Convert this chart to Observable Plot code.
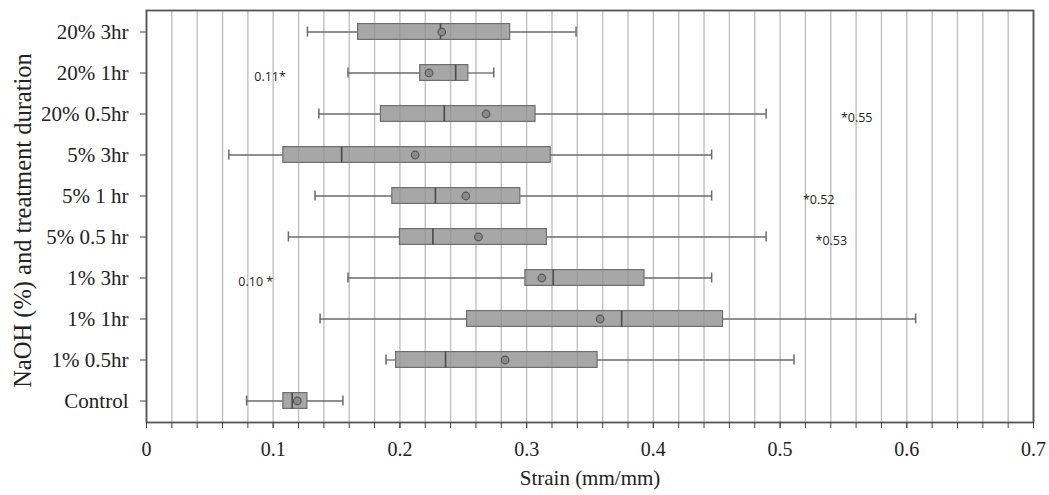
<!DOCTYPE html>
<html>
<head>
<meta charset="utf-8">
<script src="https://cdn.jsdelivr.net/npm/d3@7"></script>
<script src="https://cdn.jsdelivr.net/npm/@observablehq/plot@0.6"></script>
<style>
  html, body { margin: 0; padding: 0; background: #fff; }
  #chart svg { display: block; }
</style>
</head>
<body>
<div id="chart"></div>
<script>
// ---- data ----
const groups = ["20% 3hr", "20% 1hr", "20% 0.5hr", "5% 3hr", "5% 1 hr", "5% 0.5 hr", "1% 3hr", "1% 1hr", "1% 0.5hr", "Control"];
const whiskerLow  = [0.127, 0.159, 0.136, 0.065, 0.133, 0.112, 0.159, 0.137, 0.189, 0.079];
const q1          = [0.167, 0.216, 0.185, 0.108, 0.194, 0.200, 0.299, 0.253, 0.197, 0.108];
const median      = [0.232, 0.244, 0.235, 0.154, 0.228, 0.226, 0.321, 0.375, 0.236, 0.115];
const q3          = [0.287, 0.254, 0.307, 0.319, 0.295, 0.316, 0.393, 0.455, 0.356, 0.127];
const whiskerHigh = [0.339, 0.274, 0.489, 0.446, 0.446, 0.489, 0.446, 0.607, 0.511, 0.155];
const mean        = [0.233, 0.223, 0.268, 0.212, 0.252, 0.262, 0.312, 0.358, 0.283, 0.119];

const outlierGroups = ["20% 1hr", "20% 0.5hr", "5% 1 hr", "5% 0.5 hr", "1% 3hr"];
const outlierValues = [0.11, 0.548, 0.518, 0.528, 0.10];
const outlierLabels = ["0.11*", "*0.55", "*0.52", "*0.53", "0.10 *"];
const outlierSide   = ["left", "right", "right", "right", "left"];

const xMajorTicks = [0, 0.1, 0.2, 0.3, 0.4, 0.5, 0.6, 0.7];
const xMinorTicks = [0, 0.02, 0.04, 0.06, 0.08, 0.1, 0.12, 0.14, 0.16, 0.18, 0.2, 0.22, 0.24, 0.26, 0.28, 0.3,
  0.32, 0.34, 0.36, 0.38, 0.4, 0.42, 0.44, 0.46, 0.48, 0.5, 0.52, 0.54, 0.56, 0.58, 0.6, 0.62, 0.64, 0.66, 0.68, 0.7];

const xTitle = "Strain (mm/mm)";
const yTitle = "NaOH (%) and treatment duration";

// ---- tables built from the arrays ----
const boxes = groups.map((g, i) => ({
  group: g, lo: whiskerLow[i], q1: q1[i], med: median[i], q3: q3[i], hi: whiskerHigh[i], mean: mean[i]
}));
const outliers = outlierGroups.map((g, i) => ({
  group: g, value: outlierValues[i], label: outlierLabels[i], side: outlierSide[i]
}));

const lineColor = "#6a6a6a";

const chart = Plot.plot({
  width: 1049,
  height: 495,
  marginLeft: 146,
  marginRight: 16,
  marginTop: 10,
  marginBottom: 73,
  style: { fontFamily: "'Liberation Serif', 'Times New Roman', serif", background: "#fff", color: "#222" },
  x: { domain: [0, 0.7] },
  y: { type: "band", domain: groups, padding: 0 },
  marks: [
    Plot.gridX(xMinorTicks, { stroke: "#c0c0c0", strokeOpacity: 1, strokeWidth: 1.4 }),
    // whiskers
    Plot.ruleY(boxes, { y: "group", x1: "lo", x2: "q1", stroke: lineColor, strokeWidth: 1.3 }),
    Plot.ruleY(boxes, { y: "group", x1: "q3", x2: "hi", stroke: lineColor, strokeWidth: 1.3 }),
    Plot.tickX(boxes, { x: "lo", y: "group", stroke: lineColor, strokeWidth: 1.5, insetTop: 15.5, insetBottom: 15.5 }),
    Plot.tickX(boxes, { x: "hi", y: "group", stroke: lineColor, strokeWidth: 1.5, insetTop: 15.5, insetBottom: 15.5 }),
    // boxes
    Plot.barX(boxes, { y: "group", x1: "q1", x2: "q3", fill: "#8e8e8e", fillOpacity: 0.78, stroke: "#6e6e6e", strokeWidth: 1.2, insetTop: 12.6, insetBottom: 12.6 }),
    // medians
    Plot.tickX(boxes, { x: "med", y: "group", stroke: "#4a4a4a", strokeWidth: 1.6, insetTop: 12.6, insetBottom: 12.6 }),
    // means
    Plot.dot(boxes, { x: "mean", y: "group", r: 3.8, fill: "#8a8a8a", stroke: "#555", strokeWidth: 1.2 }),
    // outlier annotations
    Plot.text(outliers.filter(d => d.side === "left"), { x: "value", y: "group", text: "label", textAnchor: "end", dy: 4,
      fontFamily: "'Open Sans', 'Liberation Sans', sans-serif", fontSize: 12.5, fill: "#222" }),
    Plot.text(outliers.filter(d => d.side === "right"), { x: "value", y: "group", text: "label", textAnchor: "start", dy: 4,
      fontFamily: "'Open Sans', 'Liberation Sans', sans-serif", fontSize: 12.5, fill: "#222" }),
    // frame and axes
    Plot.frame({ stroke: "#555", strokeWidth: 1.8 }),
    Plot.axisX({ ticks: xMinorTicks, tickSize: 6, tickFormat: () => "", label: null, stroke: "#444" }),
    Plot.axisX({ ticks: xMajorTicks, tickSize: 6, tickPadding: 13, fontSize: 20, label: null, stroke: "#444",
      tickFormat: d => d === 0 ? "0" : d3.format(".1f")(d) }),
    Plot.axisY({ tickSize: 6, tickPadding: 12, fontSize: 21, label: null, stroke: "#444" }),
    // axis titles
    Plot.text([xTitle], { text: d => d, frameAnchor: "bottom", textAnchor: "middle", lineAnchor: "middle", dy: 56, fontSize: 21 }),
    Plot.text([yTitle], { text: d => d, frameAnchor: "left", textAnchor: "middle", lineAnchor: "middle", rotate: -90, dx: -123, dy: 4, fontSize: 24.5 })
  ]
});

document.getElementById("chart").appendChild(chart);
</script>
</body>
</html>
